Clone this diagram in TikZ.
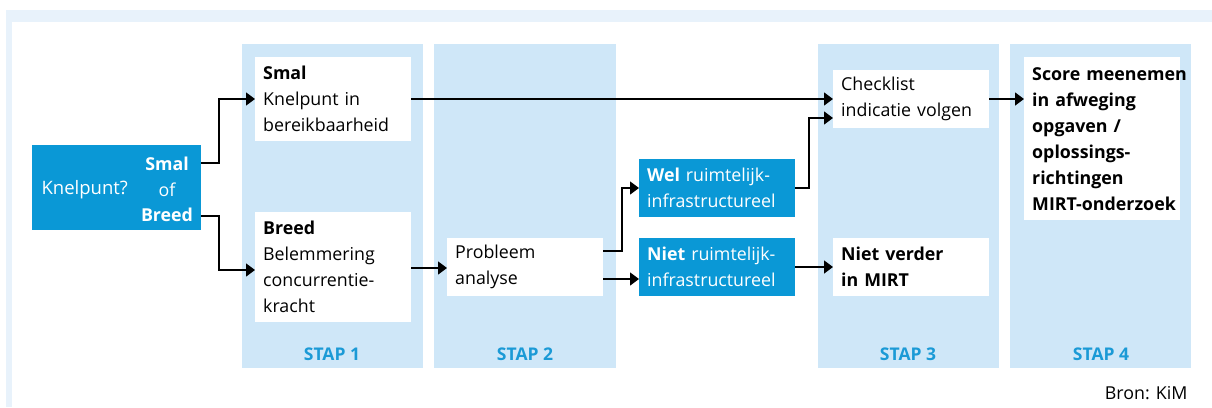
\documentclass[tikz,border=0pt]{standalone}
\usepackage{fontspec}
\setmainfont{Open Sans}
\usetikzlibrary{arrows.meta}
\definecolor{frameblue}{HTML}{E8F2FB}
\definecolor{panelblue}{HTML}{CFE7F8}
\definecolor{boxblue}{HTML}{0A98D6}
\definecolor{stapblue}{HTML}{1B9AD6}
\newcommand{\mainsize}{\fontsize{17.8}{26}\selectfont}
\tikzset{
  panel/.style={fill=panelblue, draw=none},
  whitebox/.style={fill=white, draw=none, align=left, inner xsep=8pt, inner ysep=0pt,
     font=\mainsize, anchor=north west},
  bluebox/.style={whitebox, fill=boxblue, text=white},
  staplabel/.style={font=\fontsize{17.5}{20}\selectfont\bfseries, text=stapblue},
  conn/.style={line width=1.4pt, -{Triangle[length=9pt,width=13pt]}},
}
\begin{document}
\begin{tikzpicture}[x=1pt,y=-1pt]
\useasboundingbox (0,0) rectangle (1212,407);
\fill[white] (0,0) rectangle (1212,407);
% frame
\fill[frameblue] (6,10) rectangle (1212,22);
\fill[frameblue] (6,10) rectangle (12,407);
% panels
\fill[panel] (242,44) rectangle (423,368);
\fill[panel] (434,44) rectangle (616,368);
\fill[panel] (818,44) rectangle (999,368);
\fill[panel] (1010,44) rectangle (1191,368);
\node[staplabel] (s1) at (332,354) {STAP 1};
\node[staplabel] (s2) at (525,354) {STAP 2};
\node[staplabel] (s3) at (908,354) {STAP 3};
\node[staplabel] (s4) at (1101,354) {STAP 4};
% Knelpunt box
\node[fill=boxblue, minimum width=169pt, minimum height=85pt, inner sep=0pt, anchor=north west] (kn) at (32,145) {};
\node[text=white, anchor=west, font=\fontsize{18.5}{26}\selectfont] (knt) at (38,190) {Knelpunt?};
\node[text=white, align=center, font=\fontsize{17.8}{26.5}\selectfont\bfseries] (ksb) at (167,189.5) {Smal\\[-1pt]\mdseries of\\[-1pt]Breed};
\coordinate (ksmal) at (201,163);
\coordinate (kbreed) at (201,216);
% boxes
\node[whitebox, text width=140pt, minimum height=84pt] (smal) at (255,57) {\textbf{Smal}\\Knelpunt in\\bereikbaarheid};
\node[whitebox, text width=140pt, minimum height=110pt] (breed) at (255,212) {\textbf{Breed}\\Belemmering\\concurrentie-\\kracht};
\node[whitebox, text width=140pt, minimum height=58pt] (prob) at (447,238) {Probleem\\analyse};
\node[bluebox, text width=140pt, minimum height=58pt] (wel) at (639,159) {\mbox{\textbf{Wel} ruimtelijk-}\\infrastructureel};
\node[bluebox, text width=140pt, minimum height=58pt] (niet) at (639,238) {\mbox{\textbf{Niet} ruimtelijk-}\\infrastructureel};
\node[whitebox, text width=140pt, minimum height=58pt] (check) at (833,70) {Checklist\\\mbox{indicatie volgen}};
\node[whitebox, text width=140pt, minimum height=58pt] (nv) at (833,238) {\textbf{Niet verder}\\\textbf{in MIRT}};
\node[whitebox, text width=140pt, minimum height=163pt, font=\mainsize\bfseries] (score) at (1024,57) {\mbox{Score meenemen}\\in afweging\\opgaven /\\oplossings-\\richtingen\\\mbox{MIRT-onderzoek}};
\node[anchor=east, font=\mainsize] (bron) at (1191,393) {Bron: KiM};
% connectors
\draw[conn] (ksmal) -- (219,163) |- (smal.west |- 0,99);
\draw[conn] (kbreed) -- (219,216) |- (breed.west |- 0,270);
\draw[conn] (smal.east |- 0,99) -- (check.west |- 0,99);
\draw[conn] (breed.east |- 0,268) -- (prob.west |- 0,268);
\draw[conn] (prob.east |- 0,251) -- (622,251) |- (wel.west |- 0,188);
\draw[conn] (prob.east |- 0,279) -- (niet.west |- 0,279);
\draw[conn] (wel.east |- 0,188) -- (809,188) |- (check.west |- 0,118);
\draw[conn] (niet.east |- 0,267) -- (nv.west |- 0,267);
\draw[conn] (check.east |- 0,99) -- (score.west |- 0,99);
\end{tikzpicture}
\end{document}
